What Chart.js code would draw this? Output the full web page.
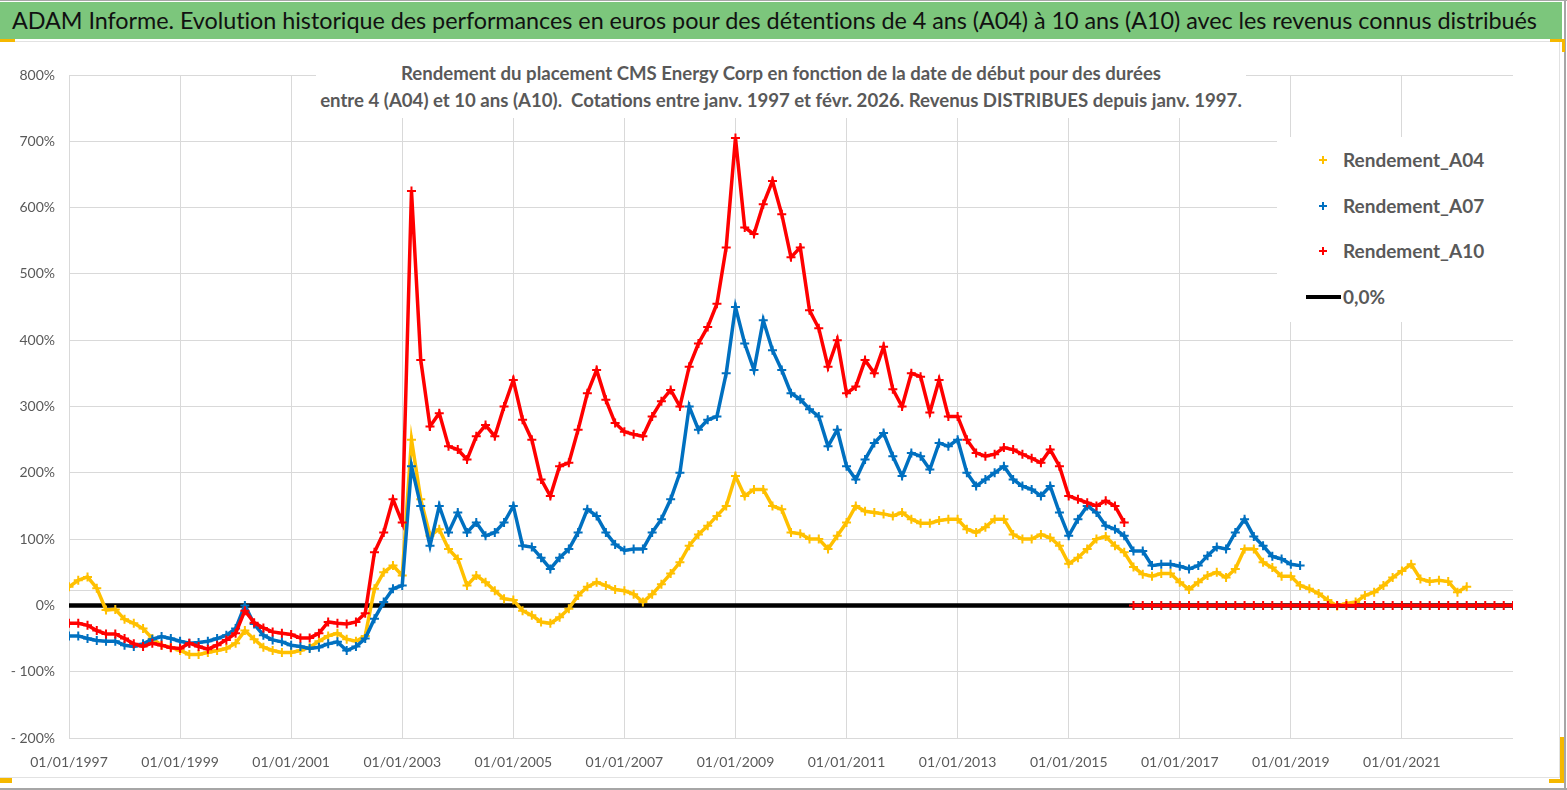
<!DOCTYPE html>
<html lang="fr">
<head>
<meta charset="utf-8">
<title>CMS Energy Corp - Rendement A04 à A10</title>
<script src="https://cdn.jsdelivr.net/npm/chart.js@4.4.1/dist/chart.umd.min.js"></script>
<style>
  body { margin: 0; background: #fff; font-family: Lato, "Open Sans", sans-serif; }
  #page { position: relative; width: 1567px; height: 790px; overflow: hidden; background: #fff; }
  #chart { position: absolute; left: 0; top: 0; }
  .rule { position: absolute; background: #a6a6a6; }
  .soft { position: absolute; background: #e2e2e2; }
  .mark { position: absolute; background: #f5b800; }
  .banner {
    position: absolute; left: 0; top: 2px; width: 1562px; height: 37px;
    background: #7cc67c; color: #111; font-size: 23.4px; line-height: 37px;
    padding-left: 12px; box-sizing: border-box; white-space: nowrap; letter-spacing: -0.05px;
  }
  .title {
    position: absolute; left: 316px; top: 60px; width: 930px; height: 58px;
    background: #fff; color: #595959; font-weight: bold; font-size: 18.6px;
    line-height: 27px; text-align: center; white-space: nowrap;
  }
  .legend {
    position: absolute; left: 1277px; top: 137px; width: 236px; height: 185px;
    background: #fff; color: #595959; font-weight: bold; font-size: 19px;
  }
  .legend .row { position: absolute; left: 66px; height: 24px; line-height: 24px; }
  .legend .plus { position: absolute; left: -24px; top: 8px; width: 8px; height: 8px; }
  .legend .plus::before, .legend .plus::after { content: ""; position: absolute; background: currentColor; }
  .legend .plus::before { left: 0; top: 3px; width: 8px; height: 2px; }
  .legend .plus::after { left: 3px; top: 0; width: 2px; height: 8px; }
  .legend .dash { position: absolute; left: -37px; top: 10px; width: 35px; height: 4px; background: #000; }
</style>
</head>
<body>
<div id="page">
  <canvas id="chart" width="1567" height="790"></canvas>

  <div class="rule" style="left:0;top:0;width:1567px;height:1px"></div>
  <div class="rule" style="left:1564px;top:0;width:2px;height:790px"></div>
  <div class="rule" style="left:0;top:788px;width:1567px;height:2px"></div>
  <div class="soft" style="left:0;top:41px;width:1560px;height:1px"></div>
  <div class="soft" style="left:1559px;top:41px;width:1px;height:737px"></div>
  <div class="soft" style="left:0;top:777px;width:1560px;height:1px"></div>
  <div class="mark" style="left:0;top:39px;width:15px;height:3px"></div>
  <div class="mark" style="left:1550px;top:39px;width:15px;height:3px"></div>
  <div class="mark" style="left:1562px;top:39px;width:3px;height:13px"></div>
  <div class="mark" style="left:1560px;top:737px;width:4px;height:46px"></div>
  <div class="mark" style="left:1549px;top:779px;width:15px;height:4px"></div>
  <div class="mark" style="left:0;top:778px;width:12px;height:5px"></div>

  <div class="banner">ADAM Informe. Evolution historique des performances en euros pour des détentions de 4 ans (A04) à 10 ans (A10) avec les revenus connus distribués</div>

  <div class="title">Rendement du placement CMS Energy Corp en fonction de la date de début pour des durées<br>entre 4 (A04) et 10 ans (A10).&nbsp; Cotations entre janv. 1997 et févr. 2026. Revenus DISTRIBUES depuis janv. 1997.</div>

  <div class="legend" id="legend"></div>
</div>

<script>
/* global Chart */

// one reading every two months, first start date January 1997
const startYear = 1997;
const readingsPerYear = 6;

// Rendement_A04 (%), 01/1997 .. 03/2022
const a04 = [
  28, 38, 43, 26, -7, -6, -21, -27, -35, -50,
  -60, -63, -68, -74, -74, -71, -68, -65, -57, -38,
  -51, -63, -68, -71, -71, -68, -63, -54, -46, -42,
  -51, -54, -46, 25, 50, 60, 45, 250, 160, 105,
  115, 85, 70, 30, 45, 35, 22, 10, 8, -8,
  -15, -25, -27, -18, -5, 15, 28, 35, 30, 24,
  22, 17, 5, 17, 32, 48, 65, 90, 107, 120,
  135, 150, 195, 165, 175, 175, 150, 145, 110, 108,
  100, 100, 85, 105, 125, 150, 142, 140, 138, 135,
  140, 130, 124, 124, 128, 130, 130, 115, 110, 118,
  130, 130, 107, 100, 100, 107, 102, 90, 63, 72,
  85, 100, 104, 90, 80, 58, 47, 44, 48, 48,
  35, 24, 35, 45, 50, 42, 55, 85, 85, 65,
  57, 44, 44, 30, 25, 18, 8, -1, 3, 5,
  15, 20, 30, 42, 52, 62, 40, 36, 38, 36,
  20, 28
];

// Rendement_A07 (%), 01/1997 .. 03/2019
const a07 = [
  -46, -46, -50, -53, -54, -54, -60, -62, -58, -51,
  -47, -50, -54, -57, -56, -54, -50, -45, -35, 0,
  -28, -45, -52, -55, -60, -62, -65, -63, -58, -55,
  -68, -62, -50, -20, 5, 25, 30, 210, 150, 90,
  150, 110, 140, 110, 125, 105, 110, 125, 150, 90,
  88, 72, 55, 72, 85, 110, 145, 135, 110, 92,
  83, 85, 85, 110, 130, 160, 200, 300, 265, 280,
  285, 350, 450, 395, 355, 430, 385, 355, 320, 311,
  296, 285, 240, 265, 210, 190, 220, 245, 260, 225,
  195, 230, 225, 205, 245, 240, 250, 200, 180, 190,
  200, 210, 190, 180, 175, 165, 180, 140, 105, 130,
  150, 140, 120, 115, 105, 82, 82, 60, 62, 62,
  59, 55, 60, 75, 88, 85, 110, 130, 104, 90,
  74, 70, 62, 60
];

// Rendement_A10 (%), 01/1997 .. 01/2016, then reported as 0 up to 01/2023
const a10 = [
  -27, -27, -30, -38, -43, -43, -50, -58, -62, -57,
  -60, -64, -65, -57, -62, -66, -60, -52, -42, -8,
  -26, -34, -40, -42, -44, -49, -49, -42, -25, -27,
  -28, -25, -12, 80, 110, 160, 125, 625, 370, 270,
  290, 240, 235, 220, 255, 272, 255, 300, 340, 280,
  250, 190, 165, 210, 215, 265, 320, 355, 310, 275,
  262, 258, 255, 285, 308, 325, 300, 360, 395, 420,
  455, 540, 705, 570, 560, 605, 640, 590, 525, 540,
  445, 418, 360, 400, 320, 330, 370, 350, 390, 326,
  300, 350, 345, 291, 340, 285, 285, 250, 230, 225,
  228, 238, 235, 228, 222, 215, 235, 210, 165, 160,
  155, 150, 158, 150, 125,
  0, 0, 0, 0, 0, 0, 0, 0, 0, 0,
  0, 0, 0, 0, 0, 0, 0, 0, 0, 0,
  0, 0, 0, 0, 0, 0, 0, 0, 0, 0,
  0, 0, 0, 0, 0, 0, 0, 0, 0, 0,
  0, 0
];

// reference line 0,0%
const zeroYears = [1997, 2023];
const zeroValues = [0, 0];

// axes
const xTickYears = [1997, 1999, 2001, 2003, 2005, 2007, 2009, 2011, 2013, 2015, 2017, 2019, 2021];
const xTickLabels = ['01/01/1997', '01/01/1999', '01/01/2001', '01/01/2003', '01/01/2005', '01/01/2007',
  '01/01/2009', '01/01/2011', '01/01/2013', '01/01/2015', '01/01/2017', '01/01/2019', '01/01/2021'];
const yTicks = [-200, -100, 0, 100, 200, 300, 400, 500, 600, 700, 800];
const yTickLabels = ['- 200%', '- 100%', '0%', '100%', '200%', '300%', '400%', '500%', '600%', '700%', '800%'];
const horizontalAxisValue = 22.6; // grey horizontal axis line just above 0%

function toPoints(values) {
  return values.map((v, i) => ({ x: startYear + i / readingsPerYear, y: v }));
}

function series(label, values, color, order) {
  return {
    label: label,
    data: toPoints(values),
    borderColor: color,
    backgroundColor: color,
    showLine: true,
    borderWidth: 3.5,
    pointStyle: 'cross',
    pointRadius: 4.5,
    pointBorderWidth: 2,
    order: order,
  };
}

Chart.defaults.font.family = 'Lato, "Open Sans", sans-serif';
Chart.defaults.color = '#595959';

const datasets = [
  series('Rendement_A04', a04, '#FFC000', 3),
  series('Rendement_A07', a07, '#0070C0', 2),
  Object.assign(series('Rendement_A10', a10, '#FF0000', 1), {
    // no joining stroke between the last reading and the zero run
    segment: {
      borderColor: c => ((c.p0.parsed.y === 0) !== (c.p1.parsed.y === 0) ? 'rgba(0,0,0,0)' : undefined),
    },
  }),
  {
    label: '0,0%',
    data: zeroYears.map((x, i) => ({ x: x, y: zeroValues[i] })),
    borderColor: '#000',
    backgroundColor: '#000',
    showLine: true,
    borderWidth: 4.5,
    pointRadius: 0,
    order: 4,
  },
];

const ctx = document.getElementById('chart').getContext('2d');

const chart = new Chart(ctx, {
  type: 'scatter',
  data: { datasets: datasets },
  options: {
    responsive: false,
    animation: false,
    devicePixelRatio: 1,
    layout: { padding: { top: 75, right: 54, left: 0, bottom: 0 } },
    plugins: {
      legend: { display: false },
      title: { display: false },
      tooltip: { enabled: false },
    },
    scales: {
      x: {
        type: 'linear',
        min: 1997,
        max: 2023,
        afterFit: s => { s.height = 52; },
        afterBuildTicks: s => { s.ticks = xTickYears.map(v => ({ value: v })); },
        ticks: {
          callback: (v, i) => xTickLabels[i],
          autoSkip: false,
          maxRotation: 0,
          padding: 16,
          font: { size: 14 },
        },
        grid: { color: '#d9d9d9', drawTicks: false },
        border: { display: false },
      },
      y: {
        min: -200,
        max: 800,
        afterFit: s => { s.width = 69; },
        afterBuildTicks: s => {
          s.ticks = yTicks.concat([horizontalAxisValue]).map(v => ({ value: v }));
        },
        ticks: {
          callback: v => (yTicks.indexOf(v) < 0 ? '' : yTickLabels[yTicks.indexOf(v)]),
          autoSkip: false,
          padding: 14,
          font: { size: 14 },
        },
        grid: { color: '#d9d9d9', drawTicks: false },
        border: { display: false },
      },
    },
  },
});

// legend box, built from the datasets
const legend = document.getElementById('legend');
chart.data.datasets.forEach((ds, i) => {
  const row = document.createElement('div');
  row.className = 'row';
  row.style.top = (11 + i * 45.7) + 'px';
  const key = document.createElement('span');
  key.className = ds.pointRadius === 0 ? 'dash' : 'plus';
  key.style.color = ds.borderColor;
  row.appendChild(key);
  row.appendChild(document.createTextNode(ds.label));
  legend.appendChild(row);
});
</script>
</body>
</html>
